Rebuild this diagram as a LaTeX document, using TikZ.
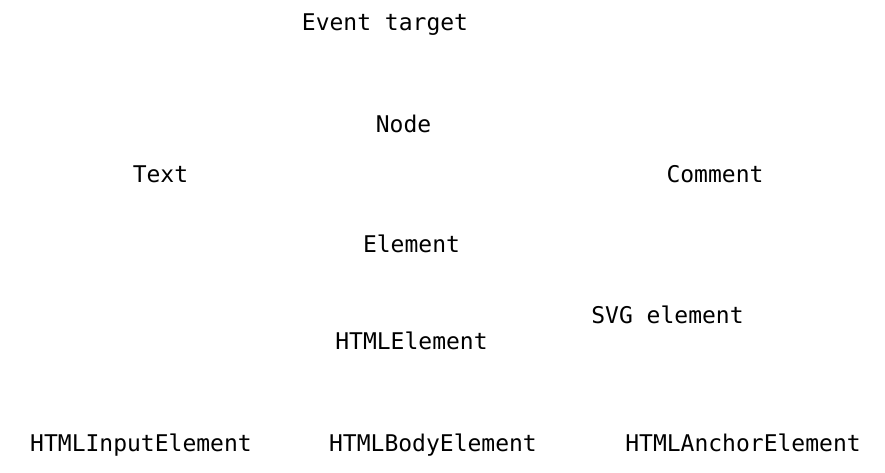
\documentclass[tikz,border=0pt]{standalone}
\usepackage{fontspec}
\setmonofont{DejaVu Sans Mono}
\begin{document}
\begin{tikzpicture}[x=1pt,y=1pt,
  lbl/.style={anchor=base,inner sep=0pt,font=\ttfamily\fontsize{23}{26}\selectfont,text=black}]
\useasboundingbox (0,0) rectangle (885,472);
\node[lbl] (evt) at (385,441) {Event target};
\node[lbl] (node) at (403.5,339) {Node};
\node[lbl] (text) at (160.5,290) {Text};
\node[lbl] (comment) at (715,290) {Comment};
\node[lbl] (element) at (411.5,220) {Element};
\node[lbl] (svg) at (667.5,149) {SVG element};
\node[lbl] (html) at (411.5,123) {HTMLElement};
\node[lbl] (input) at (141,21) {HTMLInputElement};
\node[lbl] (body) at (433,21) {HTMLBodyElement};
\node[lbl] (anchor) at (743,21) {HTMLAnchorElement};
\end{tikzpicture}
\end{document}
